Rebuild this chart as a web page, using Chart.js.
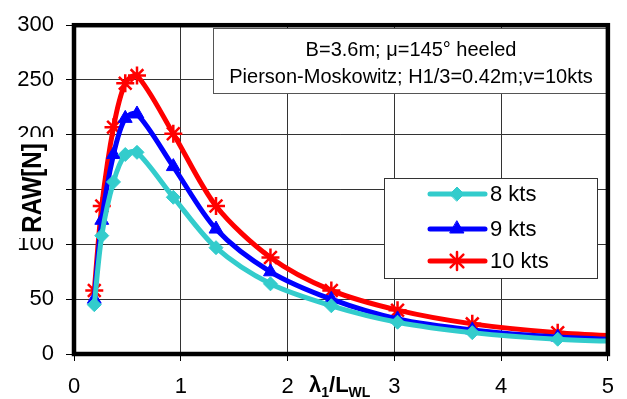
<!DOCTYPE html>
<html><head><meta charset="utf-8">
<script src="https://cdn.jsdelivr.net/npm/chart.js@4.4.1/dist/chart.umd.min.js"></script>
<style>html,body{margin:0;padding:0;background:#fff}#wrap{width:627px;height:399px}</style>
</head><body><div id="wrap"><canvas id="c" width="627" height="399"></canvas></div>
<script>
const waveRatio = [0.19, 0.26, 0.37, 0.48, 0.59, 0.93, 1.33, 1.84, 2.41, 3.03, 3.73, 4.53, 5.43];
const raw8kts  = [45, 108, 157, 182, 184, 143, 97, 64, 44, 29, 19.5, 13.5, 10.5];
const raw9kts  = [50, 122, 182, 215, 219, 171, 114, 75, 50, 32, 22, 15.5, 12];
const raw10kts = [58, 135, 207, 247, 254, 201, 135, 88, 58, 40, 27.5, 19.5, 15];
const seriesNames = ['8 kts', '9 kts', '10 kts'];
const xTicks = [0, 1, 2, 3, 4, 5];
const yTicks = [0, 50, 100, 150, 200, 250, 300];
const noteLines = ['B=3.6m; \u03bc=145\u00b0 heeled', 'Pierson-Moskowitz; H1/3=0.42m;v=10kts'];

const FONT = '"Liberation Sans", Arial, sans-serif';
const colors = ['#33CCCC', '#0000FF', '#FF0000'];
const styles = ['rectRot', 'triangle', 'star'];
const radii = [7, 8, 9];

function mk(vals, i) {
  return {
    label: seriesNames[i],
    data: waveRatio.map((x, k) => ({x: x, y: vals[k]})),
    borderColor: colors[i], backgroundColor: colors[i],
    borderWidth: 5, pointStyle: styles[i], pointRadius: radii[i],
    pointBorderWidth: i === 2 ? 2.5 : 1, pointBorderColor: colors[i],
    pointBackgroundColor: colors[i], tension: 0.3
  };
}

const deco = {
  id: 'deco',
  afterDatasetsDraw(chart) {
    const ctx = chart.ctx;
    ctx.save();
    // annotation box
    ctx.fillStyle = '#fff'; ctx.strokeStyle = '#555'; ctx.lineWidth = 1;
    ctx.fillRect(213, 28, 396, 65); ctx.strokeRect(213.5, 28.5, 396, 65);
    ctx.fillStyle = '#000'; ctx.font = '20px ' + FONT; ctx.textAlign = 'center'; ctx.textBaseline = 'middle';
    ctx.fillText(noteLines[0], 411, 50);
    ctx.fillText(noteLines[1], 411, 77);
    // legend box
    ctx.fillStyle = '#fff'; ctx.fillRect(384, 178, 213, 100);
    ctx.strokeStyle = '#333'; ctx.strokeRect(384.5, 178.5, 213, 100);
    const rows = [194, 229, 261];
    chart.data.datasets.forEach((ds, i) => {
      const y = rows[i];
      ctx.strokeStyle = ds.borderColor; ctx.lineWidth = 5; ctx.lineCap = 'round';
      ctx.beginPath(); ctx.moveTo(430, y); ctx.lineTo(485, y); ctx.stroke();
      ctx.fillStyle = ds.borderColor; ctx.lineWidth = ds.pointBorderWidth;
      Chart.helpers.drawPoint(ctx, {pointStyle: ds.pointStyle, radius: ds.pointRadius, borderWidth: ds.pointBorderWidth, rotation: 0}, 457, y);
      ctx.fillStyle = '#000'; ctx.font = '22px ' + FONT; ctx.textAlign = 'left'; ctx.textBaseline = 'middle';
      ctx.fillText(ds.label, 490, y + 1);
    });
    ctx.restore();
  },
  afterDraw(chart) {
    const ctx = chart.ctx, a = chart.chartArea;
    ctx.save();
    ctx.strokeStyle = '#000'; ctx.lineWidth = 4.5;
    ctx.strokeRect(a.left, a.top, a.right - a.left, a.bottom - a.top);
    // y title with white background covering the tick label behind it
    ctx.fillStyle = '#fff'; ctx.fillRect(15, 137, 41, 101);
    ctx.translate(32, 188); ctx.rotate(-Math.PI / 2);
    ctx.scale(1, 1.12);
    ctx.font = 'bold 24px ' + FONT;
    ctx.fillStyle = '#000'; ctx.textAlign = 'center'; ctx.textBaseline = 'middle';
    ctx.fillText('RAW[N]', 0, 1);
    ctx.restore();
    // x title with subscripts
    ctx.save();
    ctx.fillStyle = '#000'; ctx.textBaseline = 'alphabetic'; ctx.textAlign = 'left';
    let x = 309; const base = 392;
    const parts = [['\u03bb', 'bold 22px', 0], ['1', 'bold 14px', 5], ['/L', 'bold 22px', 0], ['WL', 'bold 14px', 5]];
    parts.forEach(p => { ctx.font = p[1] + ' ' + FONT; ctx.fillText(p[0], x, base + p[2]); x += ctx.measureText(p[0]).width; });
    ctx.restore();
  }
};

new Chart(document.getElementById('c'), {
  type: 'line',
  data: { datasets: [mk(raw8kts, 0), mk(raw9kts, 1), mk(raw10kts, 2)] },
  options: {
    responsive: false, animation: false, devicePixelRatio: 1,
    layout: { padding: { left: 0, top: 19, right: 14, bottom: 0 } },
    plugins: { legend: { display: false }, tooltip: { enabled: false } },
    scales: {
      x: {
        type: 'linear', min: 0, max: 5,
        afterBuildTicks: s => { s.ticks = xTicks.map(v => ({value: v})); },
        afterFit: s => { s.height = 45; },
        grid: { color: '#333', lineWidth: 1, tickLength: 7, tickColor: '#000', drawOnChartArea: true },
        border: { display: false },
        ticks: { font: { size: 22, family: FONT }, color: '#000', padding: 13, maxRotation: 0, autoSkip: false }
      },
      y: {
        min: 0, max: 300,
        afterBuildTicks: s => { s.ticks = yTicks.map(v => ({value: v})); },
        afterFit: s => { s.width = 74; },
        grid: { color: '#333', lineWidth: 1, tickLength: 8, tickColor: '#000' },
        border: { display: false },
        ticks: { font: { size: 22, family: FONT }, color: '#000', padding: 12 }
      }
    }
  },
  plugins: [deco]
});
</script></body></html>
